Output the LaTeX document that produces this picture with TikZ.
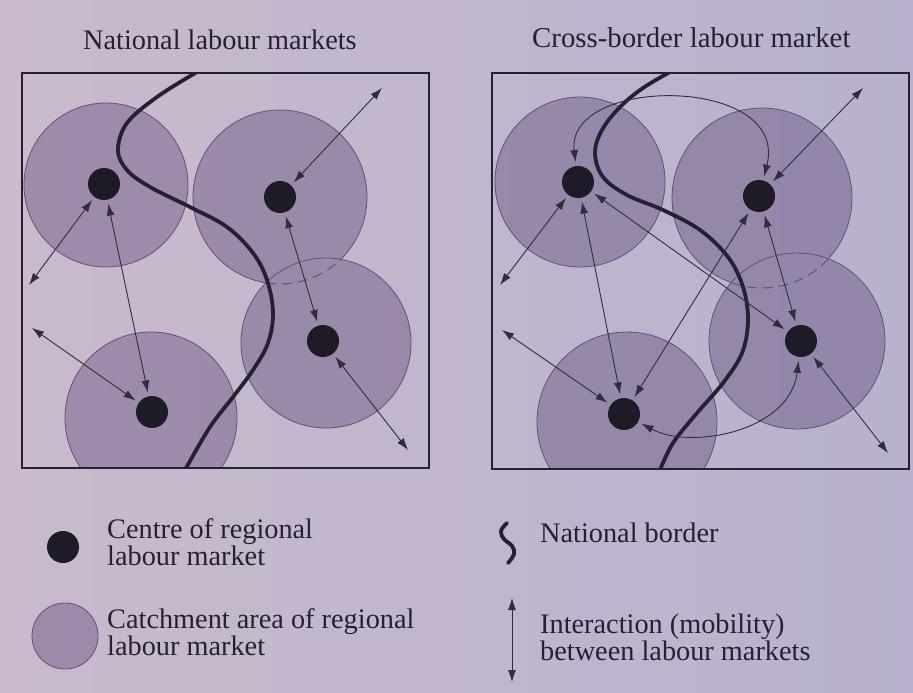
\documentclass[tikz,border=0pt]{standalone}
\usepackage{fontspec}
\setmainfont{Liberation Serif}
\usetikzlibrary{arrows.meta}
\definecolor{bgL}{RGB}{216,192,212}
\definecolor{bgR}{RGB}{172,167,213}
\definecolor{inkc}{RGB}{38,32,50}
\definecolor{linec}{RGB}{50,44,64}
\definecolor{ringc}{RGB}{95,82,115}
\definecolor{shadec}{RGB}{82,58,108}
\definecolor{dotc}{RGB}{30,26,38}
\begin{document}
\begin{tikzpicture}[x=1pt,y=-1pt,
  dot/.style={circle, fill=dotc, draw=none, inner sep=0pt, minimum size=32pt, outer sep=4pt},
  biarrow/.style={draw=linec, line width=0.9pt, {Latex[length=12pt,width=8pt]}-{Latex[length=12pt,width=8pt]}},
  ring/.style={draw=ringc, line width=0.8pt},
  dashring/.style={draw=ringc, line width=1pt, dash pattern=on 10pt off 6pt},
  shade/.style={fill=shadec, fill opacity=0.36},
  borderline/.style={draw=inkc, line width=3.8pt, line cap=round},
  frame/.style={draw=inkc, line width=1.8pt},
  lab/.style={font=\fontsize{28.3}{27}\selectfont, text=inkc, inner sep=0pt, anchor=base west, align=left}]
\useasboundingbox (0,0) rectangle (913,693);
\shade[left color=bgL, right color=bgR] (0,0) rectangle (913,693);

% ---------- titles ----------
\node[lab] (t1) at (83,50) {National labour markets};
\node[lab, font=\fontsize{28.8}{27}\selectfont] (t2) at (532,48) {Cross-border labour market};

% ---------- left panel ----------
\begin{scope}
  \clip (22,73) rectangle (429,468);
  \fill[shade] (106,185) circle[radius=82pt] (280,197) circle[radius=87pt]
               (151,418) circle[radius=86pt] (326,343) circle[radius=85pt];
  \draw[ring] (106,185) circle[radius=82pt] (151,418) circle[radius=86pt] (326,343) circle[radius=85pt];
  \draw[ring] (280,197) ++(-45.8:87pt) arc[start angle=-45.8, end angle=260.7, radius=87pt];
  \draw[dashring] (280,197) ++(-99.3:87pt) arc[start angle=-99.3, end angle=-45.8, radius=87pt];
  \draw[borderline] plot[smooth, tension=0.6] coordinates {(197,72) (157,97) (127,123) (118,150) (127,170) (150,187) (190,207) (227,227) (253,253) (267,280) (273,313) (268,343) (253,370) (233,397) (210,427) (185,470)};
\end{scope}
\node[dot] (L1) at (104,184) {};
\node[dot] (L2) at (280,197) {};
\node[dot] (L3) at (152,412) {};
\node[dot] (L4) at (323,341) {};
\coordinate (la) at (29,285);
\coordinate (lb) at (32,328);
\coordinate (lc) at (382,88);
\coordinate (ld) at (408,450);
\draw[biarrow] (L1) -- (la);
\draw[biarrow] (L1) -- (L3);
\draw[biarrow] (lb) -- (L3);
\draw[biarrow] (L2) -- (lc);
\draw[biarrow] (L2) -- (L4);
\draw[biarrow] (L4) -- (ld);
\draw[frame] (22,73) rectangle (429,468);

% ---------- right panel ----------
\begin{scope}
  \clip (492,73) rectangle (909,469);
  \fill[shade] (580,182) circle[radius=85pt] (762,198) circle[radius=90pt]
               (627,422) circle[radius=90pt] (797,341) circle[radius=88pt];
  \draw[ring] (580,182) circle[radius=85pt] (627,422) circle[radius=90pt] (797,341) circle[radius=88pt];
  \draw[ring] (762,198) ++(-42.5:90pt) arc[start angle=-42.5, end angle=250, radius=90pt];
  \draw[dashring] (762,198) ++(-110:90pt) arc[start angle=-110, end angle=-42.5, radius=90pt];
  \draw[borderline] plot[smooth, tension=0.6] coordinates {(670,72) (643,88) (620,107) (602,130) (595,153) (603,177) (627,195) (663,210) (700,230) (728,257) (743,287) (748,320) (742,353) (723,383) (697,413) (673,443) (660,470)};
\end{scope}
\node[dot] (R1) at (578,182) {};
\node[dot] (R2) at (759,196) {};
\node[dot] (R3) at (624,414) {};
\node[dot] (R4) at (801,341) {};
\coordinate (ra) at (500,285);
\coordinate (rb) at (502,330);
\coordinate (rc) at (863,88);
\coordinate (rd) at (888,453);
\draw[biarrow] (R1) -- (ra);
\draw[biarrow] (R1) -- (R3);
\draw[biarrow] (R1) -- (R4);
\draw[biarrow] (rb) -- (R3);
\draw[biarrow] (R2) -- (R3);
\draw[biarrow] (R2) -- (rc);
\draw[biarrow] (R2) -- (R4);
\draw[biarrow] (R4) -- (rd);
\draw[biarrow] (R1) .. controls (565,75) and (790,75) .. (R2);
\draw[biarrow] (R3) .. controls (690,450) and (790,432) .. (R4);
\draw[frame] (492,73) rectangle (909,469);

% ---------- legend ----------
\node[circle, fill=dotc, inner sep=0pt, minimum size=32pt] (kd) at (63,547) {};
\node[lab] (k1) at (107,565) {Centre of regional\\labour market};
\node[circle, shade, draw=ringc, line width=0.8pt, inner sep=0pt, minimum size=66pt] (kc) at (65,636) {};
\node[lab] (k2) at (107,655) {Catchment area of regional\\labour market};
\draw[borderline] plot[smooth, tension=0.7] coordinates {(507,523) (501,531) (504,539) (512,546) (514,554) (508,563)};
\node[lab] (k3) at (540,542) {National border};
\coordinate (ka) at (512,598);
\coordinate (kb) at (512,682);
\draw[biarrow] (ka) -- (kb);
\node[lab] (k4) at (540,660) {Interaction (mobility)\\between labour markets};
\end{tikzpicture}
\end{document}
